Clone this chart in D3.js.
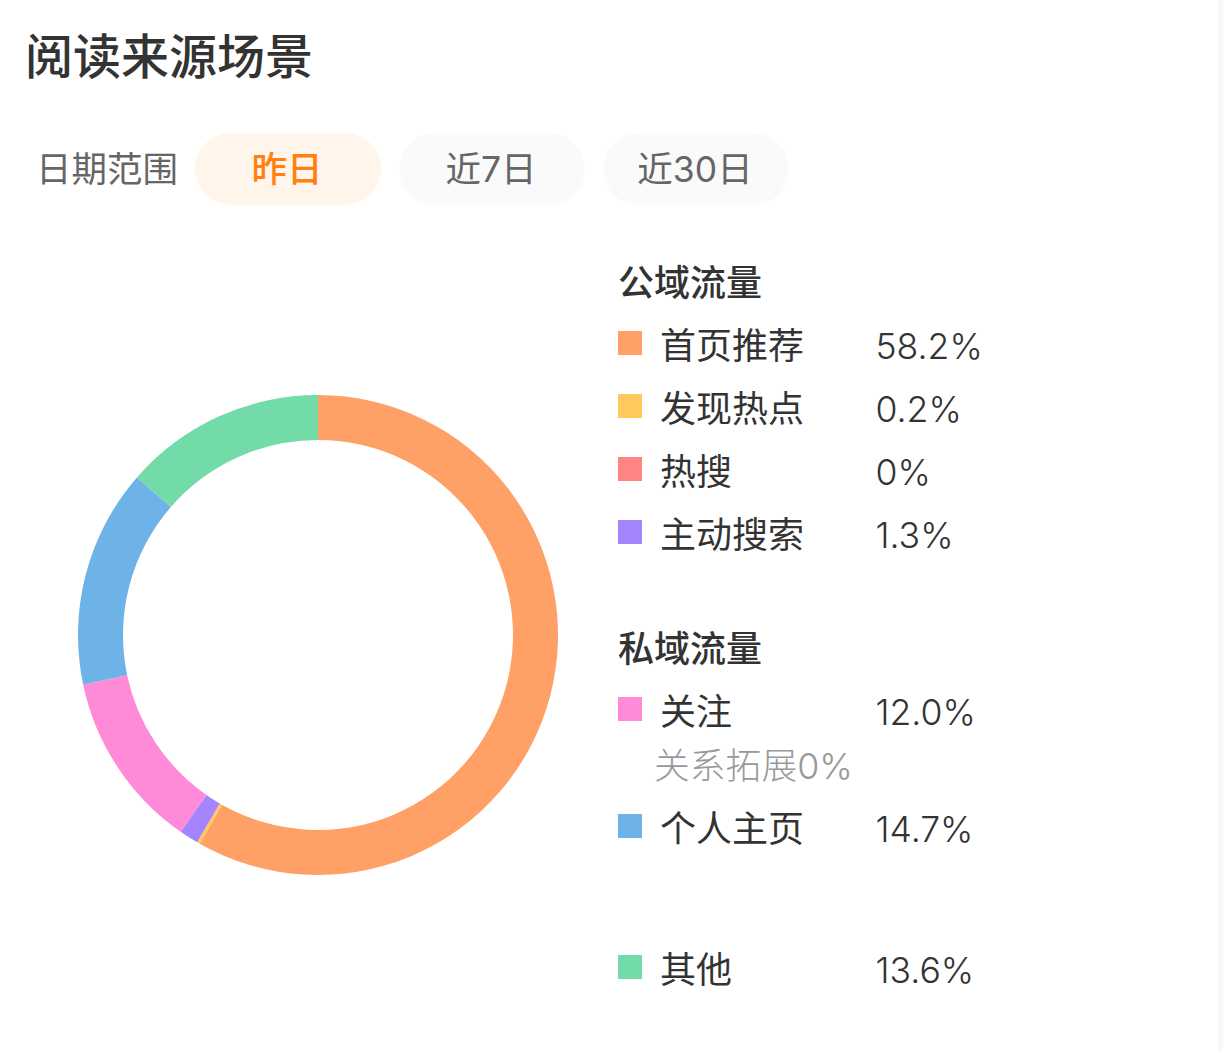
<!DOCTYPE html>
<html>
<head>
<meta charset="utf-8">
<script src="https://cdn.jsdelivr.net/npm/d3@7"></script>
<style>
  html, body { margin: 0; padding: 0; background: #f8f8f8; }
  text { font-family: Inter, "Noto Sans CJK SC", "Noto Sans", sans-serif; }
</style>
</head>
<body>
<div id="chart"></div>
<script>
// slices in drawing order, clockwise from 12 o'clock
const sliceNames = ["首页推荐", "发现热点", "热搜", "主动搜索", "关注", "个人主页", "其他"];
const sliceValues = [58.2, 0.2, 0, 1.3, 12.0, 14.7, 13.6];
const sliceLabels = ["58.2%", "0.2%", "0%", "1.3%", "12.0%", "14.7%", "13.6%"];
const sliceColors = ["#ffa066", "#ffc95c", "#ff8585", "#a585ff", "#ff8ad8", "#6eb3e8", "#72dba8"];
const ranges = ["昨日", "近7日", "近30日"];

const width = 1223, height = 1051;

const svg = d3.select("#chart").append("svg")
    .attr("width", width)
    .attr("height", height)
    .style("display", "block");

// white card, its right edge shows against the grey page
svg.append("rect")
    .attr("x", -30).attr("y", -30)
    .attr("width", 1248).attr("height", height + 60)
    .attr("rx", 24)
    .attr("fill", "#fff");

// title
svg.append("text").attr("x", 25).attr("y", 74)
    .attr("font-size", 48).attr("font-weight", 500).attr("fill", "#333")
    .text("阅读来源场景");

// date range buttons
svg.append("text").attr("x", 36).attr("y", 182)
    .attr("font-size", 35.5).attr("fill", "#666").text("日期范围");

const btnX = [195, 399, 603];
ranges.forEach((r, i) => {
    svg.append("rect")
        .attr("x", btnX[i]).attr("y", 133)
        .attr("width", 186).attr("height", 72).attr("rx", 36)
        .attr("fill", i == 0 ? "#fff5eb" : "#fafafa");
    svg.append("text")
        .attr("x", btnX[i] + 92).attr("y", 182)
        .attr("text-anchor", "middle")
        .attr("font-size", 35.5)
        .attr("font-weight", i == 0 ? 500 : 400)
        .attr("fill", i == 0 ? "#ff8010" : "#666")
        .text(r);
});

// donut
const pie = d3.pie().sort(null).value(d => d);
const arc = d3.arc().innerRadius(195).outerRadius(240);

svg.append("g")
    .attr("transform", "translate(318,635)")
    .selectAll("path")
    .data(pie(sliceValues))
    .enter()
    .append("path")
    .attr("d", arc)
    .attr("fill", (_, i) => sliceColors[i]);

// legend
const headers = [["公域流量", 296], ["私域流量", 662]];
headers.forEach(h => {
    svg.append("text").attr("x", 618).attr("y", h[1])
        .attr("font-size", 36).attr("font-weight", 500).attr("fill", "#333")
        .text(h[0]);
});

const rowY = [343, 406, 469, 532, 709, 826, 967];
const legend = svg.selectAll("g.legend-row")
    .data(sliceNames)
    .enter()
    .append("g")
    .attr("class", "legend-row")
    .attr("transform", (_, i) => "translate(0," + rowY[i] + ")");

legend.append("rect")
    .attr("x", 618).attr("y", -12)
    .attr("width", 24).attr("height", 24)
    .attr("fill", (_, i) => sliceColors[i]);

legend.append("text")
    .attr("x", 660).attr("y", 15.5)
    .attr("font-size", 36).attr("fill", "#333")
    .text(d => d);

legend.append("text")
    .attr("x", 875.5).attr("y", 15.5)
    .attr("font-size", 35.6).attr("font-weight", 300).attr("fill", "#333")
    .text((_, i) => sliceLabels[i]);

svg.append("text").attr("x", 654).attr("y", 779)
    .attr("font-size", 35.8).attr("font-weight", 300).attr("fill", "#999")
    .text("关系拓展0%");
</script>
</body>
</html>
